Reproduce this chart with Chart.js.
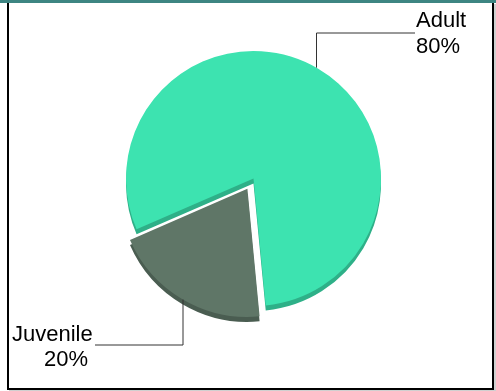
<!DOCTYPE html>
<html>
<head>
<meta charset="utf-8">
<script src="https://cdn.jsdelivr.net/npm/chart.js@4/dist/chart.umd.min.js"></script>
<style>
  body { margin: 0; background: #fff; }
  #band { position: absolute; left: 0; top: 0; width: 496px; height: 3px; background: #3d8582; }
  #frame { position: absolute; left: 7px; top: 3px; width: 483px; height: 385px; border: 2px solid #000; border-top: none; box-shadow: 2px 1px 0 #d0d0d0; }
  #pieChart { position: absolute; left: 0; top: 0; }
</style>
</head>
<body>
<div id="band"></div>
<div id="frame"></div>
<canvas id="pieChart" width="496" height="391"></canvas>
<script>
// Chart data
const categories = ["Adult", "Juvenile"];
const shares = [80, 20];

// Slice colours: top face and the darker "side" below it
const faceColors = ["#3de3b0", "#5f7667"];
const rimColors = ["#2eb088", "#4a5d51"];

// Where each callout label sits (x of leader drop, elbow y, label text spot)
const callouts = [
  { dropX: 316.5, elbowY: 33, endX: 415, textX: 416, lines: [27, 53], align: "left" },
  { dropX: 183, elbowY: 345, endX: 95, textX: [12, 44], lines: [341, 366], align: "left" },
];

const FONT = '22px "Liberation Sans", Arial, sans-serif';

// Fake 3D: paint each slice shifted down in a darker colour before the real slices
const extrudePlugin = {
  id: "extrude",
  beforeDatasetsDraw(chart) {
    const ctx = chart.ctx;
    chart.getDatasetMeta(0).data.forEach((arc, i) => {
      const saved = arc.options;
      arc.options = Object.assign({}, saved, { backgroundColor: rimColors[i] });
      ctx.save();
      ctx.translate(0, 5);
      arc.draw(ctx);
      ctx.restore();
      arc.options = saved;
    });
  },
};

// Leader lines and the "name / percent" labels
const calloutPlugin = {
  id: "callouts",
  afterDatasetsDraw(chart) {
    const ctx = chart.ctx;
    const total = shares.reduce((a, b) => a + b, 0);
    chart.getDatasetMeta(0).data.forEach((arc, i) => {
      const c = callouts[i];
      // same shift Chart.js applies for an offset slice
      const off = (arc.options.offset || 0) / 4;
      const fix = 1 - Math.sin(Math.min(Math.PI, arc.circumference));
      const half = (arc.startAngle + arc.endAngle) / 2;
      const cx = arc.x + Math.cos(half) * off * (1 + fix);
      const cy = arc.y + Math.sin(half) * off * (1 + fix);
      const dx = c.dropX - cx;
      const dy = Math.sqrt(Math.max(arc.outerRadius * arc.outerRadius - dx * dx, 0));
      const edgeY = Math.sin(half) > 0 ? cy + dy : cy - dy;

      ctx.save();
      ctx.strokeStyle = "#333";
      ctx.lineWidth = 1;
      ctx.beginPath();
      ctx.moveTo(c.dropX, edgeY);
      ctx.lineTo(c.dropX, c.elbowY);
      ctx.lineTo(c.endX, c.elbowY);
      ctx.stroke();

      ctx.fillStyle = "#000";
      ctx.font = FONT;
      ctx.textAlign = "left";
      ctx.textBaseline = "alphabetic";
      const pct = Math.round((shares[i] / total) * 100) + "%";
      const xs = Array.isArray(c.textX) ? c.textX : [c.textX, c.textX];
      ctx.fillText(categories[i], xs[0], c.lines[0]);
      ctx.fillText(pct, xs[1], c.lines[1]);
      ctx.restore();
    });
  },
};

const ctx = document.getElementById("pieChart").getContext("2d");
new Chart(ctx, {
  type: "pie",
  data: {
    labels: categories,
    datasets: [
      {
        data: shares,
        backgroundColor: faceColors,
        borderWidth: 0,
        offset: [0, 48],
        radius: 127.5,
      },
    ],
  },
  options: {
    responsive: false,
    animation: false,
    rotation: 246.5,
    layout: { padding: { left: 11, top: 0, right: 0, bottom: 34 } },
    plugins: {
      legend: { display: false },
      tooltip: { enabled: false },
    },
  },
  plugins: [extrudePlugin, calloutPlugin],
});
</script>
</body>
</html>
